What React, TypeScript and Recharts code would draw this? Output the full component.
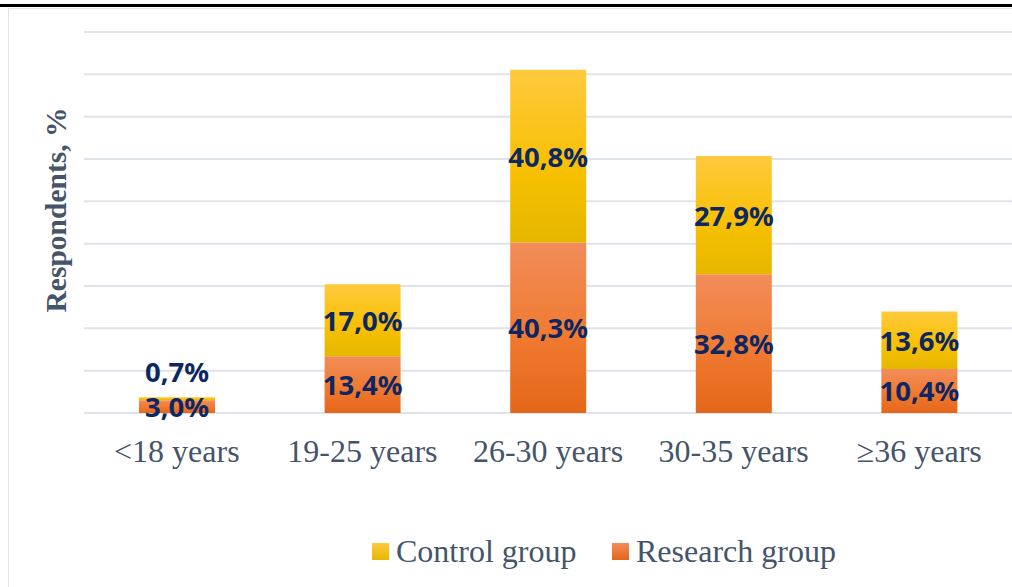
import React from 'react';
import { BarChart, Bar, XAxis, YAxis, CartesianGrid, LabelList } from 'recharts';

const categories = ['<18 years', '19-25 years', '26-30 years', '30-35 years', '≥36 years'];
const researchGroup = [3.0, 13.4, 40.3, 32.8, 10.4];
const controlGroup = [0.7, 17.0, 40.8, 27.9, 13.6];
const yTicks = [0, 10, 20, 30, 40, 50, 60, 70, 80, 90];

const data = categories.map((name, i) => ({
  name,
  research: researchGroup[i],
  control: controlGroup[i],
}));

const fmt = (v: number) => v.toFixed(1).replace('.', ',') + '%';

const LABEL_COLOR = '#0c2763';
const TEXT_COLOR = '#44546a';
const SERIF = '"Liberation Serif", "Times New Roman", serif';

// data label; with liftSmall, a tiny segment gets its label pushed above the bar
const makeLabel = (liftSmall: boolean) => (props: any) => {
  const { x, y, width, height, value } = props;
  const small = liftSmall && height < 8;
  const cy = small ? y - 26 : y + height / 2;
  return (
    <text
      x={x + width / 2}
      y={cy}
      textAnchor="middle"
      dominantBaseline="central"
      fill={LABEL_COLOR}
      fontFamily='"Noto Sans", sans-serif'
      fontWeight={700}
      fontSize={27.5}
    >
      {fmt(value)}
    </text>
  );
};

const ResearchLabel = makeLabel(false);
const ControlLabel = makeLabel(true);

const legendItems = [
  { label: 'Control group', top: '#ffc93e', bottom: '#e5b700', left: 372 },
  { label: 'Research group', top: '#f18d5a', bottom: '#e5661a', left: 612 },
];

export default function App() {
  return (
    <div style={{ position: 'absolute', left: 0, top: 0, width: 1012, height: 587, background: '#fff', overflow: 'hidden' }}>
      {/* page rule and chart frame */}
      <div style={{ position: 'absolute', left: 0, top: 4, width: 1012, height: 3, background: '#000' }} />
      <div
        style={{
          position: 'absolute',
          left: 8,
          top: 8,
          width: 1100,
          height: 700,
          border: '1.5px solid #e3e7ec',
        }}
      />
      <div
        style={{
          position: 'absolute',
          left: 56,
          top: 210,
          transform: 'translate(-50%, -50%) rotate(-90deg)',
          whiteSpace: 'nowrap',
          fontFamily: SERIF,
          fontWeight: 700,
          fontSize: 29.5,
          color: TEXT_COLOR,
        }}
      >
        Respondents, %
      </div>
      <div style={{ position: 'absolute', left: 0, top: 0 }}>
        <BarChart width={1012} height={587} data={data} margin={{ top: 32, right: 0, left: 84, bottom: 114 }}>
          <defs>
            <linearGradient id="gradControl" x1="0" y1="0" x2="0" y2="1">
              <stop offset="0%" stopColor="#ffc93e" />
              <stop offset="60%" stopColor="#f7c000" />
              <stop offset="100%" stopColor="#e5b700" />
            </linearGradient>
            <linearGradient id="gradResearch" x1="0" y1="0" x2="0" y2="1">
              <stop offset="0%" stopColor="#f18d5a" />
              <stop offset="55%" stopColor="#f07a30" />
              <stop offset="100%" stopColor="#e5661a" />
            </linearGradient>
          </defs>
          <CartesianGrid vertical={false} stroke="#dfe4ea" strokeWidth={2} />
          <XAxis
            dataKey="name"
            axisLine={false}
            tickLine={false}
            tickMargin={20}
            height={60}
            tick={{ fill: TEXT_COLOR, fontFamily: SERIF, fontSize: 32 }}
            interval={0}
          />
          <YAxis hide domain={[0, 90]} ticks={yTicks} />
          <Bar dataKey="research" stackId="a" fill="url(#gradResearch)" barSize={76} isAnimationActive={false}>
            <LabelList dataKey="research" content={<ResearchLabel />} />
          </Bar>
          <Bar dataKey="control" stackId="a" fill="url(#gradControl)" barSize={76} isAnimationActive={false}>
            <LabelList dataKey="control" content={<ControlLabel />} />
          </Bar>
        </BarChart>
      </div>
      {legendItems.map((item, i) => (
        <div key={item.label} style={{ position: 'absolute', left: item.left, top: 533, display: 'flex', alignItems: 'center', height: 36 }}>
          <svg width={17} height={17} style={{ marginRight: 7 }}>
            <defs>
              <linearGradient id={'legend' + i} x1="0" y1="0" x2="0" y2="1">
                <stop offset="0%" stopColor={item.top} />
                <stop offset="100%" stopColor={item.bottom} />
              </linearGradient>
            </defs>
            <rect width={17} height={17} fill={'url(#legend' + i + ')'} />
          </svg>
          <span style={{ fontFamily: SERIF, fontSize: 32, color: TEXT_COLOR, whiteSpace: 'nowrap' }}>{item.label}</span>
        </div>
      ))}
    </div>
  );
}
